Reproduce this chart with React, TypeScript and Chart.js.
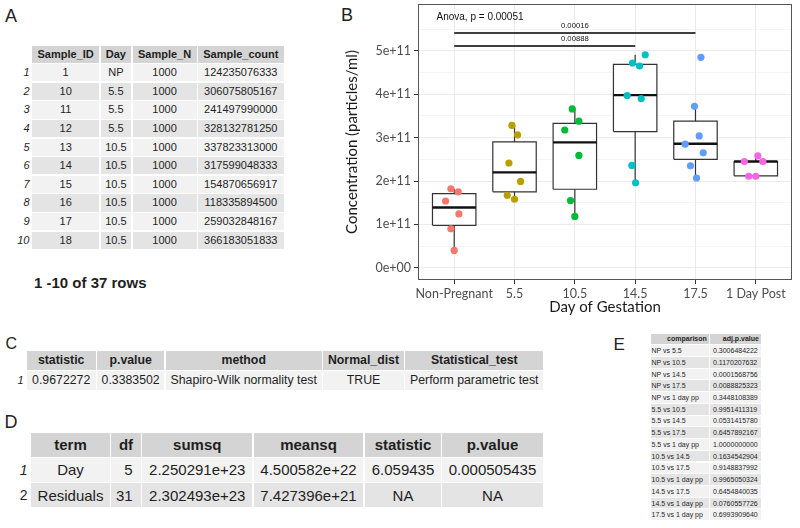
import React, { useEffect, useRef } from 'react';
import { Chart, registerables } from 'chart.js';

Chart.register(...registerables);

// ---------------- Chart data (panel B) ----------------
const categories = ['Non-Pregnant', '5.5', '10.5', '14.5', '17.5', '1 Day Post'];
const groupColors = ['#F8766D', '#B79F00', '#00BA38', '#00BFC4', '#619CFF', '#F564E3'];

const npValues = [1.82e11, 1.75e11, 1.54e11, 1.242e11, 0.9e11, 0.4e11];
const npJitter = [-0.055, 0.067, -0.143, 0.078, -0.055, 0];
const d55Values = [3.281e11, 3.061e11, 2.415e11, 1.99e11, 1.67e11, 1.58e11];
const d55Jitter = [-0.043, 0.05, -0.093, 0.1, -0.12, 0];
const d105Values = [3.662e11, 3.378e11, 3.176e11, 2.59e11, 1.549e11, 1.183e11];
const d105Jitter = [-0.043, 0.067, -0.167, 0.067, -0.072, 0];
const d145Values = [4.91e11, 4.72e11, 4.65e11, 3.97e11, 3.9e11, 2.36e11, 1.96e11];
const d145Jitter = [0.167, -0.043, 0.073, -0.133, 0.1, -0.055, 0.007];
const d175Values = [4.85e11, 3.72e11, 3.04e11, 2.85e11, 2.65e11, 2.35e11, 2.07e11];
const d175Jitter = [0.09, -0.017, 0.062, -0.172, 0.128, -0.083, 0.017];
const pp1Values = [2.58e11, 2.45e11, 2.45e11, 2.11e11, 2.11e11];
const pp1Jitter = [0.033, -0.19, 0.117, -0.117, 0];

const groupValues = [npValues, d55Values, d105Values, d145Values, d175Values, pp1Values];
const groupJitter = [npJitter, d55Jitter, d105Jitter, d145Jitter, d175Jitter, pp1Jitter];

const boxQ1 = [0.98e11, 1.75e11, 1.81e11, 3.14e11, 2.5e11, 2.12e11];
const boxMedian = [1.39e11, 2.2e11, 2.89e11, 3.98e11, 2.86e11, 2.45e11];
const boxQ3 = [1.71e11, 2.9e11, 3.33e11, 4.69e11, 3.38e11, 2.45e11];
const whiskerLow = [0.4e11, 1.58e11, 1.18e11, 1.96e11, 2.07e11, 2.11e11];
const whiskerHigh = [1.82e11, 3.29e11, 3.67e11, 4.91e11, 3.72e11, 2.58e11];

const yTickValues = [0, 1e11, 2e11, 3e11, 4e11, 5e11];
const yTickLabels = ['0e+00', '1e+11', '2e+11', '3e+11', '4e+11', '5e+11'];
const yMinorValues = [0.5e11, 1.5e11, 2.5e11, 3.5e11, 4.5e11, 5.5e11];

const sigFrom = [0, 0];
const sigTo = [4, 3];
const sigY = [5.41e11, 5.11e11];
const sigLabels = ['0.00016', '0.00888'];
const sigLabelX = [2.0, 2.0];

const anovaText = 'Anova, p = 0.00051';
const anovaPos = { x: -0.293, y: 5.78e11 };

// ---------------- Table data ----------------
const tableAHeaders = ['Sample_ID', 'Day', 'Sample_N', 'Sample_count'];
const tableARows = [
  ['1', 'NP', '1000', '124235076333'],
  ['10', '5.5', '1000', '306075805167'],
  ['11', '5.5', '1000', '241497990000'],
  ['12', '5.5', '1000', '328132781250'],
  ['13', '10.5', '1000', '337823313000'],
  ['14', '10.5', '1000', '317599048333'],
  ['15', '10.5', '1000', '154870656917'],
  ['16', '10.5', '1000', '118335894500'],
  ['17', '10.5', '1000', '259032848167'],
  ['18', '10.5', '1000', '366183051833'],
];
const tableAFooter = '1 -10 of 37 rows';

const tableCHeaders = ['statistic', 'p.value', 'method', 'Normal_dist', 'Statistical_test'];
const tableCRows = [['0.9672272', '0.3383502', 'Shapiro-Wilk normality test', 'TRUE', 'Perform parametric test']];

const tableDHeaders = ['term', 'df', 'sumsq', 'meansq', 'statistic', 'p.value'];
const tableDRows = [
  ['Day', '5', '2.250291e+23', '4.500582e+22', '6.059435', '0.000505435'],
  ['Residuals', '31', '2.302493e+23', '7.427396e+21', 'NA', 'NA'],
];

const tableEHeaders = ['comparison', 'adj.p.value'];
const tableERows = [
  ['NP vs 5.5', '0.3006484222'],
  ['NP vs 10.5', '0.1170207632'],
  ['NP vs 14.5', '0.0001568756'],
  ['NP vs 17.5', '0.0088825323'],
  ['NP vs 1 day pp', '0.3448108389'],
  ['5.5 vs 10.5', '0.9951411319'],
  ['5.5 vs 14.5', '0.0531415780'],
  ['5.5 vs 17.5', '0.6457892167'],
  ['5.5 vs 1 day pp', '1.0000000000'],
  ['10.5 vs 14.5', '0.1634542904'],
  ['10.5 vs 17.5', '0.9148837992'],
  ['10.5 vs 1 day pp', '0.9965050324'],
  ['14.5 vs 17.5', '0.6454840035'],
  ['14.5 vs 1 day pp', '0.0760557726'],
  ['17.5 vs 1 day pp', '0.6993909640'],
];

// ---------------- Styling ----------------
const TABLE_FONT = "'Liberation Sans', Arial, Helvetica, sans-serif";
const AXIS_FONT = "Lato, 'Open Sans', sans-serif";
const HEADER_BG = '#d4d4d4';
const ODD_BG = '#f2f2f2';
const EVEN_BG = '#e4e4e4';
const TEXT = '#1f1f1f';
const HALF = 0.36;

type Align = 'left' | 'center' | 'right';
interface TableSpec {
  headers: string[];
  rows: string[][];
  cols: [number, number][];
  headerTop: number;
  headerH: number;
  rowTops: number[];
  rowH: number;
  fontSize: number;
  headerAlign: Align[];
  bodyAlign: Align[];
  headerPad?: number[];
  bodyPad?: number[];
  labelRight?: number;
  labelItalic?: boolean[];
  labels?: string[];
  labelSize?: number;
}

function cellStyle(x: number, y: number, w: number, h: number, bg: string, align: Align, pad: number, size: number, bold: boolean): React.CSSProperties {
  return {
    position: 'absolute',
    left: x,
    top: y,
    width: w,
    height: h,
    background: bg,
    display: 'flex',
    alignItems: 'center',
    justifyContent: align === 'left' ? 'flex-start' : align === 'right' ? 'flex-end' : 'center',
    paddingLeft: align === 'left' ? pad : 0,
    paddingRight: align === 'right' ? pad : 0,
    boxSizing: 'border-box',
    fontSize: size,
    fontWeight: bold ? 700 : 400,
    lineHeight: 1,
    whiteSpace: 'nowrap',
    color: TEXT,
    fontFamily: TABLE_FONT,
  };
}

function DataTable({ spec }: { spec: TableSpec }) {
  const items: React.ReactNode[] = [];
  spec.headers.forEach((h, c) => {
    const [x0, x1] = spec.cols[c];
    items.push(
      <div key={'h' + c} style={cellStyle(x0, spec.headerTop, x1 - x0, spec.headerH, HEADER_BG, spec.headerAlign[c], spec.headerPad ? spec.headerPad[c] : 0, spec.fontSize, true)}>
        {h}
      </div>
    );
  });
  spec.rows.forEach((row, r) => {
    const top = spec.rowTops[r];
    const bg = r % 2 === 0 ? ODD_BG : EVEN_BG;
    row.forEach((v, c) => {
      const [x0, x1] = spec.cols[c];
      items.push(
        <div key={'c' + r + '_' + c} style={cellStyle(x0, top, x1 - x0, spec.rowH, bg, spec.bodyAlign[c], spec.bodyPad ? spec.bodyPad[c] : 0, spec.fontSize, false)}>
          {v}
        </div>
      );
    });
    if (spec.labels && spec.labelRight !== undefined) {
      items.push(
        <div
          key={'l' + r}
          style={{
            position: 'absolute',
            left: 0,
            width: spec.labelRight,
            top,
            height: spec.rowH,
            display: 'flex',
            alignItems: 'center',
            justifyContent: 'flex-end',
            fontSize: spec.labelSize || spec.fontSize,
            fontStyle: spec.labelItalic && spec.labelItalic[r] ? 'italic' : 'normal',
            lineHeight: 1,
            color: TEXT,
            fontFamily: TABLE_FONT,
          }}
        >
          {spec.labels[r]}
        </div>
      );
    }
  });
  return <>{items}</>;
}

function PanelLetter({ text, left, top, size }: { text: string; left: number; top: number; size: number }) {
  return (
    <div style={{ position: 'absolute', left, top, fontSize: size, lineHeight: 1, fontFamily: TABLE_FONT, color: '#222', fontWeight: 400 }}>
      {text}
    </div>
  );
}

function BoxPlot() {
  const ref = useRef<HTMLCanvasElement | null>(null);
  useEffect(() => {
    if (!ref.current) return;

    const datasets: any[] = [];

    // points (top-most)
    groupValues.forEach((vals, i) => {
      datasets.push({
        data: vals.map((v, k) => ({ x: i + groupJitter[i][k], y: v })),
        showLine: false,
        pointRadius: 3.6,
        pointBorderWidth: 0,
        pointBackgroundColor: groupColors[i],
        pointBorderColor: groupColors[i],
        order: 0,
      });
    });

    // significance brackets
    const bracketData: any[] = [];
    sigFrom.forEach((f, k) => {
      bracketData.push({ x: f, y: sigY[k] }, { x: sigTo[k], y: sigY[k] }, { x: sigTo[k], y: null });
    });
    datasets.push({
      data: bracketData,
      showLine: true,
      spanGaps: false,
      borderColor: '#000000',
      borderWidth: 1.5,
      pointRadius: 0,
      order: 1,
    });

    // medians
    const medData: any[] = [];
    categories.forEach((_, i) => {
      medData.push({ x: i - HALF, y: boxMedian[i] }, { x: i + HALF, y: boxMedian[i] }, { x: i, y: null });
    });
    datasets.push({
      data: medData,
      showLine: true,
      spanGaps: false,
      borderColor: '#111111',
      borderWidth: 2.4,
      borderCapStyle: 'butt',
      pointRadius: 0,
      order: 2,
    });

    // whiskers
    const whData: any[] = [];
    categories.forEach((_, i) => {
      whData.push({ x: i, y: boxQ3[i] }, { x: i, y: whiskerHigh[i] }, { x: i, y: null });
      whData.push({ x: i, y: whiskerLow[i] }, { x: i, y: boxQ1[i] }, { x: i, y: null });
    });
    datasets.push({
      data: whData,
      showLine: true,
      spanGaps: false,
      borderColor: '#333333',
      borderWidth: 1.2,
      pointRadius: 0,
      order: 3,
    });

    // boxes
    categories.forEach((_, i) => {
      datasets.push({
        data: [
          { x: i - HALF, y: boxQ1[i] },
          { x: i + HALF, y: boxQ1[i] },
          { x: i + HALF, y: boxQ3[i] },
          { x: i - HALF, y: boxQ3[i] },
          { x: i - HALF, y: boxQ1[i] },
        ],
        showLine: true,
        fill: 'shape',
        backgroundColor: '#ffffff',
        borderColor: '#333333',
        borderWidth: 1.2,
        borderJoinStyle: 'miter',
        pointRadius: 0,
        order: 4,
      });
    });

    const panelBorder = {
      id: 'panelBorder',
      afterDraw(chart: any) {
        const { ctx, chartArea } = chart;
        ctx.save();
        ctx.strokeStyle = '#555555';
        ctx.lineWidth = 1;
        ctx.strokeRect(chartArea.left + 0.5, chartArea.top + 0.5, chartArea.right - chartArea.left - 1, chartArea.bottom - chartArea.top - 1);
        ctx.restore();
      },
    };

    const annotations = {
      id: 'annotations',
      afterDatasetsDraw(chart: any) {
        const { ctx, scales } = chart;
        const xs = scales.x;
        const ys = scales.y;
        ctx.save();
        ctx.fillStyle = '#111111';
        ctx.font = `10px ${TABLE_FONT}`;
        ctx.textAlign = 'left';
        ctx.textBaseline = 'middle';
        ctx.fillText(anovaText, xs.getPixelForValue(anovaPos.x), ys.getPixelForValue(anovaPos.y));
        ctx.font = `7.7px ${TABLE_FONT}`;
        ctx.textAlign = 'center';
        sigLabels.forEach((lab, k) => {
          ctx.fillText(lab, xs.getPixelForValue(sigLabelX[k]), ys.getPixelForValue(sigY[k]) - 6.8);
        });
        ctx.restore();
      },
    };

    const allY = [...yTickValues, ...yMinorValues].sort((a, b) => a - b);
    const isMajor = (v: number) => yTickValues.indexOf(v) >= 0;

    const chart = new Chart(ref.current, {
      type: 'scatter',
      data: { datasets },
      plugins: [panelBorder, annotations],
      options: {
        animation: false,
        responsive: false,
        devicePixelRatio: 1,
        events: [],
        layout: { padding: { top: 1, right: 8, left: 0, bottom: 0 } },
        plugins: { legend: { display: false }, tooltip: { enabled: false } },
        scales: {
          x: {
            type: 'linear',
            min: -0.6,
            max: 5.6,
            afterBuildTicks: (s: any) => {
              s.ticks = categories.map((_, i) => ({ value: i }));
            },
            afterFit: (s: any) => {
              s.height = 42;
              s.paddingLeft = 0;
              s.paddingRight = 0;
            },
            border: { display: false },
            grid: { color: '#ebebeb', lineWidth: 1, tickLength: 4, tickColor: '#333333', tickWidth: 1 },
            ticks: {
              autoSkip: false,
              maxRotation: 0,
              padding: 2,
              color: '#4d4d4d',
              font: { family: AXIS_FONT, size: 12.5 },
              callback: (v: any) => categories[Math.round(Number(v))] ?? '',
            },
            title: {
              display: true,
              text: 'Day of Gestation',
              color: '#1a1a1a',
              font: { family: AXIS_FONT, size: 15 },
              padding: { top: 0, bottom: 6 },
            },
          },
          y: {
            type: 'linear',
            min: -0.281e11,
            max: 6.079e11,
            afterBuildTicks: (s: any) => {
              s.ticks = allY.map((v) => ({ value: v }));
            },
            afterFit: (s: any) => {
              s.width = 88;
              s.paddingTop = 0;
              s.paddingBottom = 0;
            },
            border: { display: false },
            grid: {
              color: (c: any) => (c.tick && isMajor(c.tick.value) ? '#ebebeb' : '#f1f1f1'),
              lineWidth: (c: any) => (c.tick && isMajor(c.tick.value) ? 1 : 0.7),
              tickLength: 4,
              tickColor: (c: any) => (c.tick && isMajor(c.tick.value) ? '#333333' : 'rgba(0,0,0,0)'),
              tickWidth: 1,
            },
            ticks: {
              autoSkip: false,
              padding: 3,
              color: '#4d4d4d',
              font: { family: AXIS_FONT, size: 12.5 },
              callback: (v: any) => {
                const idx = yTickValues.indexOf(Number(v));
                return idx >= 0 ? yTickLabels[idx] : '';
              },
            },
            title: {
              display: true,
              text: 'Concentration (particles/ml)',
              color: '#1a1a1a',
              font: { family: AXIS_FONT, size: 15 },
              padding: { top: 13, bottom: 0 },
            },
          },
        },
      } as any,
    });
    return () => chart.destroy();
  }, []);
  return <canvas ref={ref} width={470} height={322} style={{ position: 'absolute', left: 330, top: 0, width: 470, height: 322 }} />;
}

const specA: TableSpec = {
  headers: tableAHeaders,
  rows: tableARows,
  cols: [
    [32, 99.3],
    [100.5, 131.3],
    [132.5, 196.7],
    [197.9, 283.7],
  ],
  headerTop: 45.5,
  headerH: 17.3,
  rowTops: tableARows.map((_, i) => 64.1 + i * 18.6),
  rowH: 17.3,
  fontSize: 11,
  headerAlign: ['center', 'center', 'center', 'center'],
  bodyAlign: ['center', 'center', 'center', 'center'],
  labels: tableARows.map((_, i) => String(i + 1)),
  labelRight: 29.5,
  labelItalic: tableARows.map(() => true),
};

const specC: TableSpec = {
  headers: tableCHeaders,
  rows: tableCRows,
  cols: [
    [26.7, 95.7],
    [97, 164.3],
    [165.7, 321.7],
    [323, 404],
    [405.3, 543.3],
  ],
  headerTop: 350.7,
  headerH: 19.3,
  rowTops: [371],
  rowH: 19,
  fontSize: 12.3,
  headerAlign: ['center', 'center', 'center', 'center', 'center'],
  bodyAlign: ['center', 'center', 'center', 'center', 'center'],
  labels: ['1'],
  labelRight: 23.5,
  labelItalic: [true],
  labelSize: 11,
};

const specD: TableSpec = {
  headers: tableDHeaders,
  rows: tableDRows,
  cols: [
    [31, 110],
    [111.3, 140.7],
    [142.3, 252.3],
    [253.7, 363.3],
    [365, 441],
    [442.3, 542.7],
  ],
  headerTop: 433.3,
  headerH: 23.4,
  rowTops: [458, 483.3],
  rowH: 23.6,
  fontSize: 15,
  headerAlign: ['center', 'center', 'center', 'center', 'center', 'center'],
  bodyAlign: ['center', 'right', 'center', 'center', 'center', 'center'],
  bodyPad: [0, 8, 0, 0, 0, 0],
  labels: ['1', '2'],
  labelRight: 27.5,
  labelItalic: [true, false],
  labelSize: 14,
};

const specE: TableSpec = {
  headers: tableEHeaders,
  rows: tableERows,
  cols: [
    [651, 709.3],
    [710.3, 761],
  ],
  headerTop: 333.5,
  headerH: 10.7,
  rowTops: tableERows.map((_, i) => 333.5 + (i + 1) * 11.73),
  rowH: 10.7,
  fontSize: 7,
  headerAlign: ['right', 'right'],
  bodyAlign: ['left', 'left'],
  headerPad: [2.5, 2],
  bodyPad: [0.5, 2.7],
};

export default function App() {
  return (
    <div style={{ position: 'absolute', left: 0, top: 0, width: 800, height: 528, background: '#ffffff', overflow: 'hidden' }}>
      <PanelLetter text="A" left={5} top={6.8} size={18} />
      <PanelLetter text="B" left={341} top={6} size={18} />
      <PanelLetter text="C" left={5.5} top={336} size={16} />
      <PanelLetter text="D" left={4.5} top={412.7} size={18} />
      <PanelLetter text="E" left={613.5} top={336} size={17} />
      <DataTable spec={specA} />
      <div style={{ position: 'absolute', left: 34, top: 274.5, fontSize: 15, fontWeight: 700, lineHeight: 1, fontFamily: TABLE_FONT, color: TEXT, whiteSpace: 'nowrap' }}>
        {tableAFooter}
      </div>
      <DataTable spec={specC} />
      <DataTable spec={specD} />
      <DataTable spec={specE} />
      <BoxPlot />
    </div>
  );
}
